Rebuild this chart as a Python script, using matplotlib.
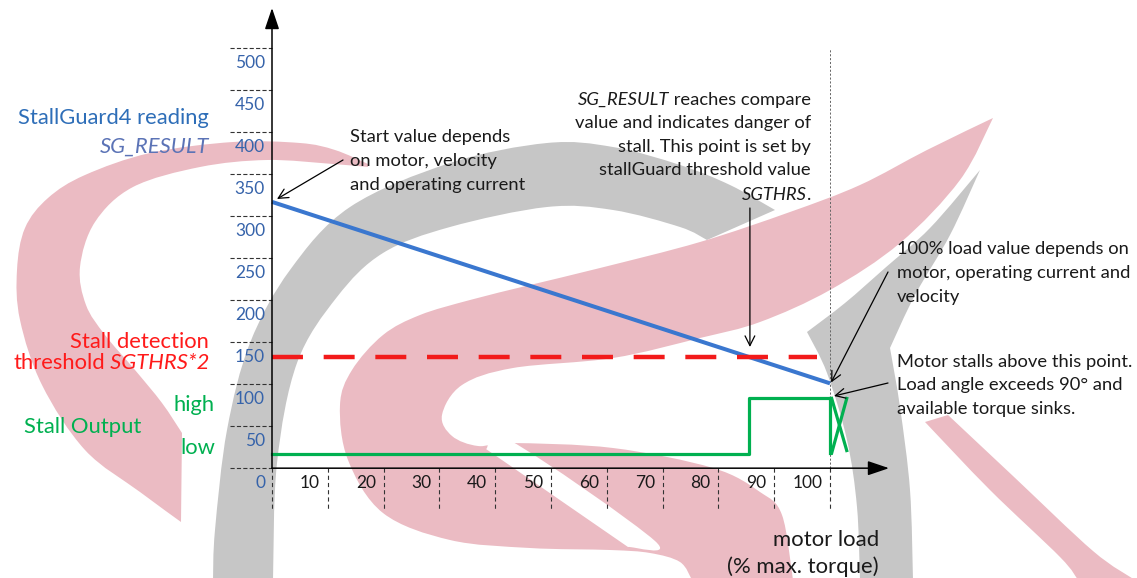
import matplotlib
matplotlib.use('Agg')
import matplotlib.pyplot as plt
from matplotlib.path import Path
from matplotlib.patches import PathPatch
import numpy as np

plt.rcParams['font.family'] = ['Lato', 'DejaVu Sans']
plt.rcParams['lines.scale_dashes'] = False

# ---------------- data ----------------
load_ticks = [0, 10, 20, 30, 40, 50, 60, 70, 80, 90, 100]
load_labels = ['10', '20', '30', '40', '50', '60', '70', '80', '90', '100']
sg_ticks = [0, 50, 100, 150, 200, 250, 300, 350, 400, 450, 500]
sg_load = [0, 100]            # motor load (% max torque)
sg_result = [335, 119]        # StallGuard4 reading
sgthrs2 = 150                 # stall detection threshold
stall_load = [0, 85.5, 85.5, 100]
stall_out = [35, 35, 101, 101]
stall_low, stall_high = 35, 101
stall_x1 = [100.3, 103.0]     # stall "X" marker after 100 %
stall_y1 = [101, 39]
stall_x2 = [103.0, 100.3]
stall_y2 = [101, 36]

# ---------------- figure ----------------
W, H = 1137, 578
fig = plt.figure(figsize=(W / 100, H / 100), dpi=100)

PX0, PXS = 272.0, 5.58     # pixel of load 0, px per % load
PY0, PYS = 483.3, 0.84     # pixel of SG 0, px per SG unit


def xp(px):
    return (px - PX0) / PXS


def yp(py):
    return (PY0 - py) / PYS


GRID_OFF = 18  # dashed scale lines sit slightly above the label values

# ---------- background watermark (decoration) ----------
bg = fig.add_axes([0, 0, 1, 1])
bg.set_xlim(0, W)
bg.set_ylim(H, 0)
bg.axis('off')
bg.set_zorder(0)


def smooth_path(edges):
    verts, codes = [], []
    for ei, pts in enumerate(edges):
        pts = np.asarray(pts, float)
        verts.append(pts[0])
        codes.append(Path.MOVETO if ei == 0 else Path.LINETO)
        n = len(pts)
        for i in range(n - 1):
            p0 = pts[i - 1] if i > 0 else pts[i]
            p1, p2 = pts[i], pts[i + 1]
            p3 = pts[i + 2] if i + 2 < n else pts[i + 1]
            verts += [p1 + (p2 - p0) / 6, p2 - (p3 - p1) / 6, p2]
            codes += [Path.CURVE4] * 3
    verts.append(verts[0])
    codes.append(Path.CLOSEPOLY)
    return Path(verts, codes)


PINK = '#EBBBC3'
GRAY = '#C6C6C6'
shapes = [
    (GRAY, [[(213, 580), (215, 530), (227, 430), (250, 343), (290, 270), (350, 207), (450, 163),
             (547, 143), (613, 147), (680, 165), (730, 185), (775, 210)],
            [(707, 240), (680, 227), (613, 210), (547, 207), (450, 227), (383, 253), (337, 297),
             (297, 363), (277, 463), (273, 580)]]),
    (GRAY, [[(980, 170), (950, 235), (915, 295), (890, 348)],
            [(890, 348), (900, 407), (910, 490), (913, 580)],
            [(860, 580), (857, 507), (847, 440), (827, 373), (807, 332)],
            [(807, 332), (845, 303), (885, 268), (930, 228), (980, 170)]]),
    (PINK, [[(181, 522), (140, 492), (85, 450), (42, 385), (20, 320), (17, 270), (25, 228),
             (48, 198), (85, 175), (150, 153), (233, 142), (300, 143), (335, 150), (368, 164)],
            [(368, 167), (333, 164), (267, 160), (200, 167), (133, 187), (95, 222), (80, 267),
             (86, 305), (105, 335), (135, 370), (162, 403), (182, 433)]]),
    (PINK, [[(993, 118), (927, 150), (860, 185), (790, 212), (700, 242), (600, 268), (530, 285),
             (470, 300), (420, 315), (383, 335), (352, 370), (340, 405), (348, 460), (383, 513),
             (450, 540), (530, 548), (610, 550), (650, 553), (680, 562), (692, 580)],
            [(793, 580), (782, 515), (760, 492), (713, 468), (613, 448), (510, 443), (478, 446),
             (452, 436), (442, 415), (462, 385), (513, 368), (613, 358), (700, 338), (760, 322),
             (830, 290), (900, 243), (960, 180), (993, 118)]]),
    ('white', [[(486, 449), (511, 441), (655, 541), (628, 547)]]),
    (PINK, [[(925, 422), (990, 490), (1060, 557), (1078, 580)],
            [(1135, 580), (1093, 551), (1013, 476), (948, 415)]]),
]
for col, edges in shapes:
    bg.add_patch(PathPatch(smooth_path(edges), facecolor=col, edgecolor='none', lw=0))

# ---------------- chart ----------------
ax = fig.add_axes([0, 0, 1, 1])
ax.set_zorder(1)
ax.patch.set_visible(False)
ax.set_xlim(xp(0), xp(W))
ax.set_ylim(yp(H), yp(0))
ax.axis('off')

DASH_COL = '#333333'
axis_y = GRID_OFF
below = yp(510)
TFS = 12.5

# dashed scale lines for SG values
for v in sg_ticks:
    ax.plot([xp(230), 0], [v + GRID_OFF, v + GRID_OFF], color=DASH_COL, lw=0.8,
            dashes=(3, 1.6), solid_capstyle='butt', zorder=2)
    ax.text(xp(265), v, str(v), ha='right', va='center', fontsize=TFS,
            color='#3663AA', zorder=5)

# dashed scale lines for load
for v in load_ticks:
    ax.plot([v, v], [axis_y, below], color=DASH_COL, lw=0.8, dashes=(3, 2.2), zorder=2)
for v, lab in zip(load_ticks[1:], load_labels):
    ax.text(v - 1.4, 0, lab, ha='right', va='center', fontsize=TFS, color='#1A1A1A', zorder=5)

# 100 % dotted vertical line
ax.plot([100, 100], [axis_y, yp(48)], color='#666666', lw=0.7, dashes=(1.5, 1.3), zorder=2)

# axes with arrows
arrow_kw = dict(arrowstyle='-|>,head_length=0.65,head_width=0.22', mutation_scale=20,
                color='black', lw=1.1, shrinkA=0, shrinkB=0)
ax.annotate('', xy=(0, yp(8)), xytext=(0, axis_y), arrowprops=arrow_kw, zorder=4)
ax.annotate('', xy=(xp(889), axis_y), xytext=(0, axis_y), arrowprops=arrow_kw, zorder=4)

# SG_RESULT line
ax.plot(sg_load, sg_result, color='#3A77CF', lw=2.9, solid_capstyle='butt', zorder=3)
# threshold
ax.plot([0, xp(817)], [sgthrs2, sgthrs2], color='#F21A1A', lw=3.2,
        dashes=(22.3, 14.9), dash_capstyle='butt', zorder=3)
# stall output
GREEN = '#00B050'
ax.plot(stall_load, stall_out, color=GREEN, lw=2.3, zorder=3)
ax.plot([100, 100], [stall_high, stall_y2[1]], color=GREEN, lw=2.3, zorder=3)
ax.plot(stall_x1, stall_y1, color=GREEN, lw=2.3, zorder=3)
ax.plot(stall_x2, stall_y2, color=GREEN, lw=2.3, zorder=3)

# left labels
LFS = 15.8
ax.text(xp(209), yp(118), 'StallGuard4 reading', ha='right', va='center', fontsize=LFS,
        color='#2E6EB8', zorder=5)
ax.text(xp(209), yp(147), 'SG_RESULT', ha='right', va='center', fontsize=LFS,
        color='#5B73B6', style='italic', zorder=5)
ax.text(xp(209), yp(342), 'Stall detection', ha='right', va='center', fontsize=LFS,
        color='#FF1A1A', zorder=5)
t_it = ax.text(xp(209), yp(363), ' SGTHRS*2', ha='right', va='center', fontsize=LFS,
               color='#FF1A1A', style='italic', zorder=5)
ax.annotate('threshold', xy=(0, 0), xycoords=t_it, ha='right', va='bottom', fontsize=LFS,
            color='#FF1A1A', zorder=5)
ax.text(xp(215), yp(405), 'high', ha='right', va='center', fontsize=LFS, color=GREEN, zorder=5)
ax.text(xp(24), yp(427), 'Stall Output', ha='left', va='center', fontsize=LFS, color=GREEN, zorder=5)
ax.text(xp(215), yp(448), 'low', ha='right', va='center', fontsize=LFS, color=GREEN, zorder=5)

# axis title
ax.text(xp(879), yp(540), 'motor load', ha='right', va='center', fontsize=15.9,
        color='#1A1A1A', zorder=5)
ax.text(xp(879), yp(567), '(% max. torque)', ha='right', va='center', fontsize=15.9,
        color='#1A1A1A', zorder=5)

# annotations
AFS = 13.2
TXT = '#1A1A1A'
for s, py in zip(['Start value depends', 'on motor, velocity', 'and operating current'],
                 [137, 161, 185]):
    ax.text(xp(350), yp(py), s, ha='left', va='center', fontsize=AFS, color=TXT, zorder=5)

r1 = ax.text(xp(811), yp(100), ' reaches compare', ha='right', va='center', fontsize=AFS,
             color=TXT, zorder=5)
ax.annotate('SG_RESULT', xy=(0, 0), xycoords=r1, ha='right', va='bottom', fontsize=AFS,
            color=TXT, style='italic', zorder=5)
for s, py in zip(['value and indicates danger of', 'stall. This point is set by',
                  'stallGuard threshold value'], [123, 147, 170]):
    ax.text(xp(811), yp(py), s, ha='right', va='center', fontsize=AFS, color=TXT, zorder=5)
ax.text(xp(806.5), yp(195), 'SGTHRS', ha='right', va='center', fontsize=AFS, color=TXT,
        style='italic', zorder=5)
ax.text(xp(806.5), yp(195), '.', ha='left', va='center', fontsize=AFS, color=TXT, zorder=5)

for s, py in zip(['100% load value depends on', 'motor, operating current and', 'velocity'],
                 [249, 273, 297]):
    ax.text(xp(897), yp(py), s, ha='left', va='center', fontsize=AFS, color=TXT, zorder=5)
for s, py in zip(['Motor stalls above this point.', 'Load angle exceeds 90° and',
                  'available torque sinks.'], [362, 385, 409]):
    ax.text(xp(897), yp(py), s, ha='left', va='center', fontsize=AFS, color=TXT, zorder=5)

# pointer arrows
pk = dict(arrowstyle='->,head_length=0.7,head_width=0.35', mutation_scale=10,
          color='black', lw=0.9, shrinkA=0, shrinkB=0)
x_cross = (sg_result[0] - sgthrs2) / (sg_result[0] - sg_result[1]) * (sg_load[1] - sg_load[0])
ax.annotate('', xy=(xp(277), yp(199)), xytext=(xp(343), yp(160)), arrowprops=pk, zorder=6)
ax.annotate('', xy=(x_cross, yp(347)), xytext=(x_cross, yp(208)), arrowprops=pk, zorder=6)
ax.annotate('', xy=(sg_load[1] + 0.2, sg_result[1] + 1), xytext=(xp(888), yp(272)),
            arrowprops=pk, zorder=6)
ax.annotate('', xy=(xp(834), yp(396)), xytext=(xp(888), yp(383)), arrowprops=pk, zorder=6)

fig.savefig('out.png', dpi=100)
